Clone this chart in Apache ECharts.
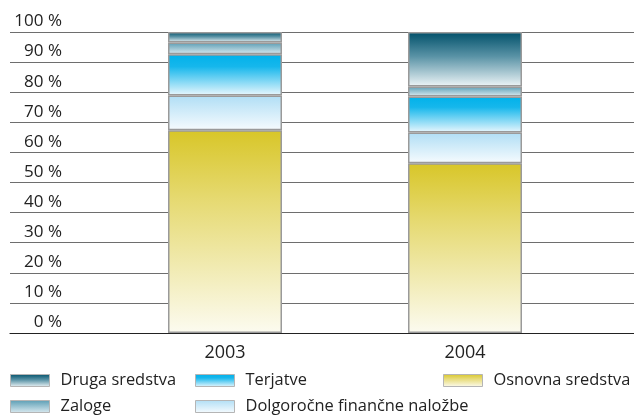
<!DOCTYPE html>
<html>
<head>
<meta charset="utf-8">
<script src="https://cdn.jsdelivr.net/npm/echarts@6/dist/echarts.min.js"></script>
<style>
  html, body { margin: 0; padding: 0; background: #fff; }
  #main { width: 634px; height: 418px; }
</style>
</head>
<body>
<div id="main"></div>
<script>
// podatki (delež v %)
var years = ['2003', '2004'];
var osnovnaSredstva = [67.4, 56.4];
var dolgorocneNalozbe = [11.5, 10.2];
var terjatve = [13.7, 12.0];
var zaloge = [3.9, 3.3];
var drugaSredstva = [3.5, 18.1];

var font = 'Open Sans';

// navpični preliv za posamezen segment
function grad(stops) {
     return {
          type: 'linear', x: 0, y: 0, x2: 0, y2: 1,
          colorStops: stops.map(function (s) { return { offset: s[0], color: s[1] }; }),
          global: false
     };
}

function barSeries(name, data, color) {
     return {
          name: name,
          type: 'bar',
          stack: 'total',
          xAxisIndex: 1,
          yAxisIndex: 1,
          barWidth: 114,
          data: data,
          itemStyle: {
               color: color,
               borderColor: '#9a9a9a',
               borderWidth: 1.5
          }
     };
}

var legendCommon = {
     orient: 'vertical',
     padding: 0,
     icon: 'rect',
     itemWidth: 39,
     itemHeight: 12,
     itemGap: 9,
     selectedMode: false,
     itemStyle: { borderColor: '#b5b5b5', borderWidth: 1 },
     textStyle: { fontFamily: font, fontSize: 16.4, lineHeight: 17, color: '#222', padding: [0, 0, 0, 6] }
};

var myChart = echarts.init(document.getElementById('main'));
var option = {
     animation: false,
     grid: [
          { left: 10, right: 0, top: 32, bottom: 85 },
          { left: 105, right: 49, top: 32, bottom: 85 }
     ],
     legend: [
          Object.assign({ left: 10, top: 372, data: ['Druga sredstva', 'Zaloge'] }, legendCommon),
          Object.assign({ left: 195, top: 372, data: ['Terjatve', 'Dolgoročne finančne naložbe'] }, legendCommon),
          Object.assign({ left: 443, top: 372, data: ['Osnovna sredstva'] }, legendCommon)
     ],
     xAxis: [
          {
               gridIndex: 0,
               type: 'category',
               data: years,
               axisLine: { lineStyle: { color: '#222', width: 1.2 } },
               axisTick: { show: false },
               axisLabel: { show: false }
          },
          {
               gridIndex: 1,
               type: 'category',
               data: years,
               axisLine: { show: false },
               axisTick: { show: false },
               axisLabel: { fontFamily: font, fontSize: 18, color: '#222', margin: 11 }
          }
     ],
     yAxis: [
          {
               gridIndex: 0,
               type: 'value',
               min: 0,
               max: 100,
               interval: 10,
               axisLine: { show: false },
               axisTick: { show: false },
               splitLine: { lineStyle: { color: '#6e6e6e', width: 1.2 } },
               axisLabel: {
                    formatter: '{value} %',
                    fontFamily: font,
                    fontSize: 17,
                    color: '#222',
                    align: 'right',
                    verticalAlign: 'bottom',
                    margin: -52,
                    padding: [0, 0, 2, 0]
               }
          },
          {
               gridIndex: 1,
               type: 'value',
               min: 0,
               max: 100,
               show: false
          }
     ],
     series: [
          barSeries('Osnovna sredstva', osnovnaSredstva,
               grad([[0, '#d8c628'], [0.35, '#e6da73'], [1, '#fcfbf0']])),
          barSeries('Dolgoročne finančne naložbe', dolgorocneNalozbe,
               grad([[0, '#b0def5'], [1, '#f6fbfe']])),
          barSeries('Terjatve', terjatve,
               grad([[0, '#00b1ea'], [0.3, '#16b7ec'], [1, '#eaf7fd']])),
          barSeries('Zaloge', zaloge,
               grad([[0, '#5a9db4'], [1, '#dbeaf0']])),
          barSeries('Druga sredstva', drugaSredstva,
               grad([[0, '#00506a'], [0.45, '#5a93a6'], [1, '#eef5f7']]))
     ]
};
myChart.setOption(option);
</script>
</body>
</html>
